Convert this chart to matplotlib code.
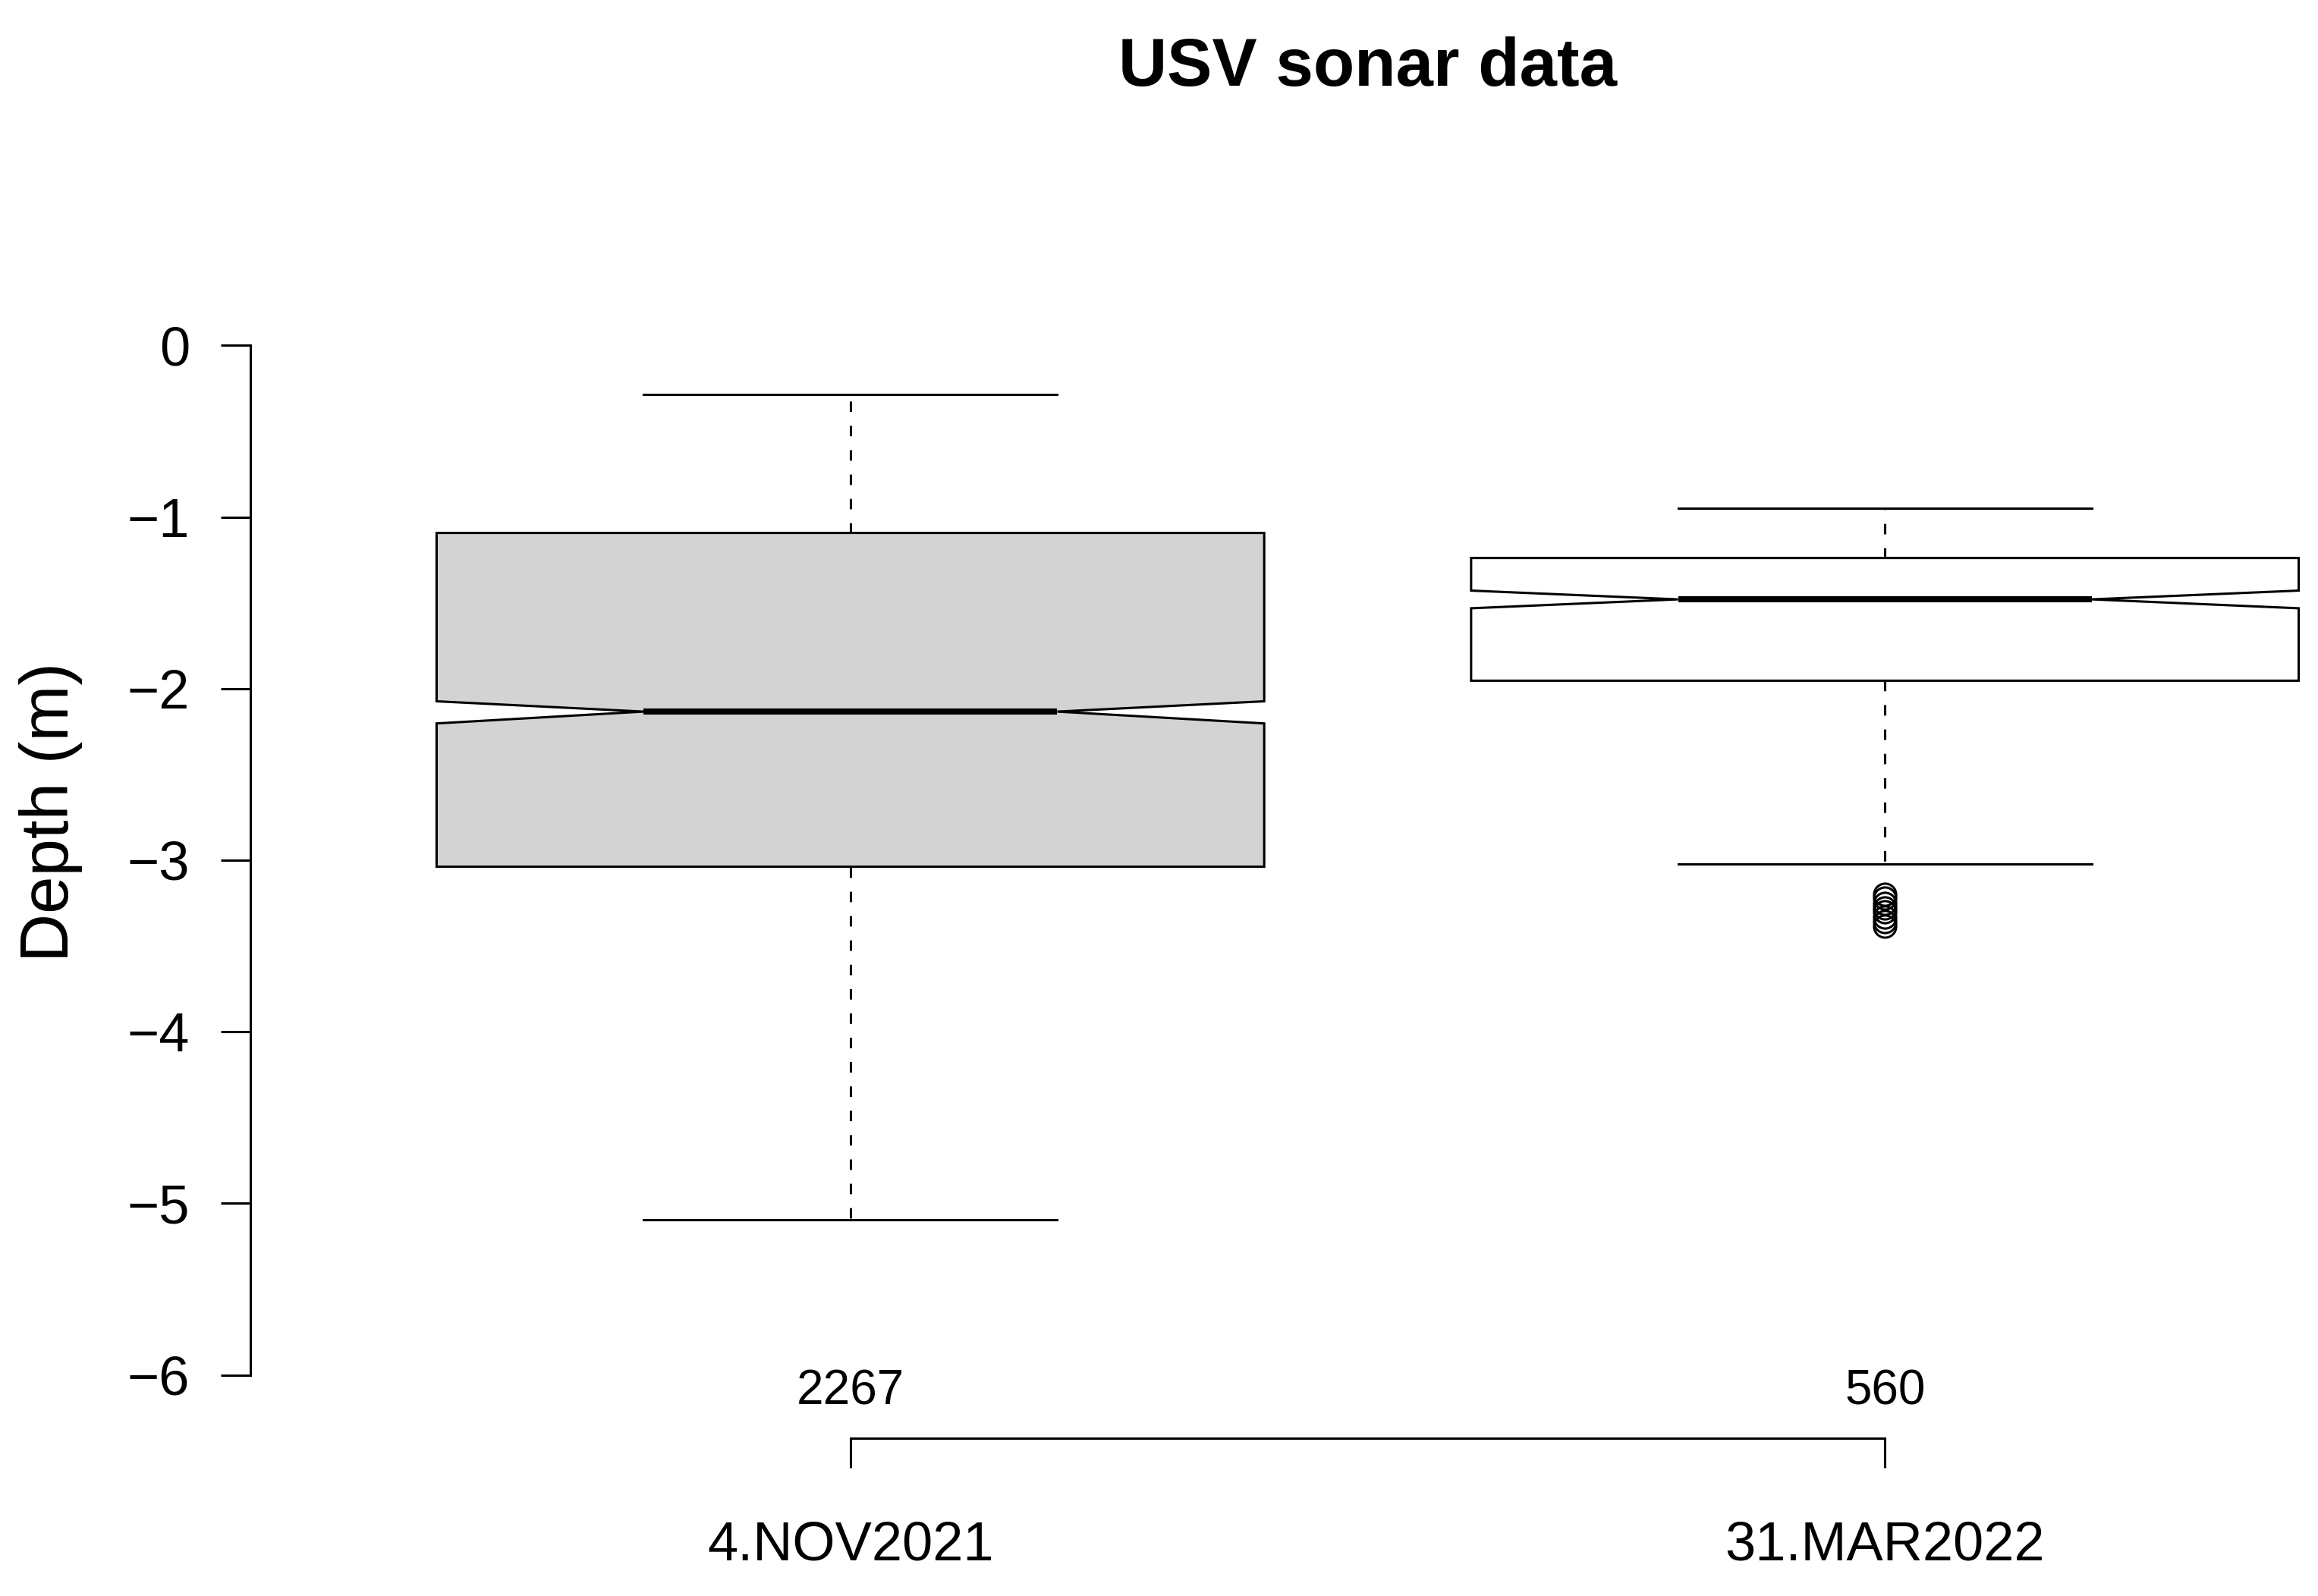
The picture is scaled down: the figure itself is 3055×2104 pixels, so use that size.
import matplotlib
matplotlib.use("Agg")
import matplotlib.pyplot as plt
import matplotlib.transforms as mtransforms

plt.rcParams['font.family'] = ['Liberation Sans', 'DejaVu Sans']

# values (depth in m)
dates = ['4.NOV2021', '31.MAR2022']
counts = [2267, 560]
medians = [-2.134, -1.480]
q1 = [-3.038, -1.954]
q3 = [-1.093, -1.239]
whisk_lo = [-5.095, -3.021]
whisk_hi = [-0.284, -0.947]
notch_lo = [-2.203, -1.532]
notch_hi = [-2.074, -1.429]
outliers = [[], [-3.20, -3.22, -3.25, -3.28, -3.30, -3.33, -3.36, -3.385]]
fills = ['#d3d3d3', 'white']

stats = []
for i in range(len(dates)):
    stats.append(dict(med=medians[i], q1=q1[i], q3=q3[i],
                      whislo=whisk_lo[i], whishi=whisk_hi[i],
                      cilo=notch_lo[i], cihi=notch_hi[i],
                      fliers=outliers[i], label=dates[i]))

W, H = 3055, 2104
fig = plt.figure(figsize=(W / 200, H / 200), dpi=200)
ax = fig.add_axes([330 / W, 1 - 1867 / H, (3275 - 330) / W, (1867 - 401) / H])

lw = 1.1
bp = ax.bxp(stats, positions=[1, 2], widths=0.8, capwidths=0.4,
            shownotches=True, patch_artist=True,
            boxprops=dict(linewidth=lw, edgecolor='black'),
            medianprops=dict(linewidth=2.9, color='black', solid_capstyle='butt'),
            whiskerprops=dict(linewidth=lw, color='black', linestyle=(0, (4.5, 6))),
            capprops=dict(linewidth=lw, color='black'),
            flierprops=dict(marker='o', markersize=10.5, markerfacecolor='none',
                            markeredgecolor='black', markeredgewidth=lw))
for box, c in zip(bp['boxes'], fills):
    box.set_facecolor(c)

ax.set_xlim(0.42, 2.58)
ax.set_ylim(-6.24, 0.24)
ax.set_yticks([0, -1, -2, -3, -4, -5, -6])
ax.set_xticks([1, 2])
ax.set_xticklabels(dates)

for s in ['top', 'right']:
    ax.spines[s].set_visible(False)
ax.spines['left'].set_bounds(-6, 0)
ax.spines['bottom'].set_bounds(1, 2)
ax.spines['bottom'].set_position(('outward', 10.4))
ax.spines['left'].set_linewidth(lw)
ax.spines['bottom'].set_linewidth(lw)
ax.tick_params(axis='y', labelsize=26, length=14, width=lw, pad=14.7)
ax.tick_params(axis='x', labelsize=26, length=14, width=lw, pad=25)

# sample sizes above the x axis
trans = mtransforms.blended_transform_factory(ax.transData, fig.transFigure)
for x, n in zip([1, 2], counts):
    ax.text(x, 1 - 1834 / H, str(n), transform=trans, ha='center', va='center',
            fontsize=23, clip_on=False)

fig.text(((330 + 3275) / 2) / W, 1 - 113 / H, 'USV sonar data', ha='center',
         va='baseline', fontsize=32, fontweight='bold')
fig.text(67 / W, 1 - 1070 / H, 'Depth (m)', rotation=90, ha='center',
         va='center', fontsize=32)

fig.savefig('out.png', dpi=200)
